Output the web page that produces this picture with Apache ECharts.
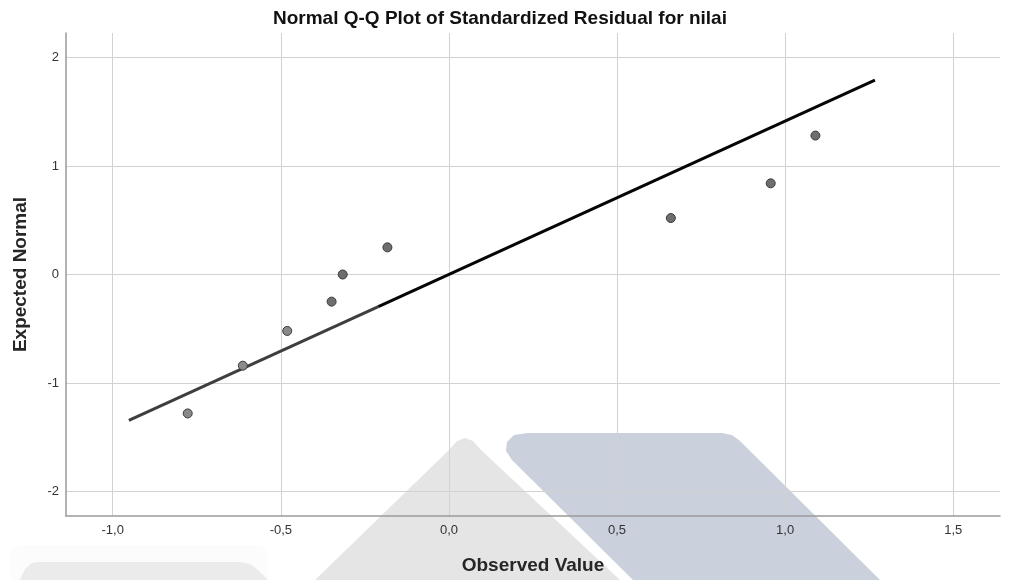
<!DOCTYPE html>
<html>
<head>
<meta charset="utf-8">
<script src="https://cdn.jsdelivr.net/npm/echarts@6/dist/echarts.min.js"></script>
<style>
html,body{margin:0;padding:0;background:#fff;}
#chart{width:1010px;height:580px;}
</style>
</head>
<body>
<div id="chart"></div>
<script>
// ---- data ----
var titleText = 'Normal Q-Q Plot of Standardized Residual for nilai';
var xAxisName = 'Observed Value';
var yAxisName = 'Expected Normal';
var observed = [-0.777, -0.613, -0.481, -0.349, -0.316, -0.183, 0.660, 0.957, 1.090];
var expected = [-1.28, -0.84, -0.52, -0.25, 0.00, 0.25, 0.52, 0.84, 1.28];
var lineX = [-0.952, -0.21, 1.267];
var lineY = [-1.343, -0.297, 1.791];
var xTicks = [-1.0, -0.5, 0.0, 0.5, 1.0, 1.5];
var xTickLabels = ['-1,0', '-0,5', '0,0', '0,5', '1,0', '1,5'];
var yTicks = [-2, -1, 0, 1, 2];
var yTickLabels = ['-2', '-1', '0', '1', '2'];
var xRange = [-1.139, 1.639];
var yRange = [-2.225, 2.225];

function lookup(ticks, labels) {
  return function (v) {
    for (var i = 0; i < ticks.length; i++) {
      if (Math.abs(ticks[i] - v) < 1e-6) return labels[i];
    }
    return '';
  };
}

var points = observed.map(function (x, i) { return [x, expected[i]]; });
var seg1 = [[lineX[0], lineY[0]], [lineX[1], lineY[1]]];
var seg2 = [[lineX[1], lineY[1]], [lineX[2], lineY[2]]];

var font = '"Liberation Sans", Arial, sans-serif';
var chart = echarts.init(document.getElementById('chart'), null, {renderer: 'canvas'});

chart.setOption({
  backgroundColor: '#ffffff',
  animation: false,
  title: {
    text: titleText,
    left: 268,
    top: 4,
    textStyle: {fontFamily: font, fontSize: 19, fontWeight: 'bold', color: '#111'}
  },
  grid: {left: 66, right: 10, top: 33, bottom: 64},
  xAxis: {
    type: 'value',
    min: xRange[0],
    max: xRange[1],
    name: xAxisName,
    nameLocation: 'middle',
    nameGap: 40,
    nameTextStyle: {fontFamily: font, fontSize: 19, fontWeight: 'bold', color: '#262626'},
    axisLine: {show: true, onZero: false, lineStyle: {color: '#9a9a9a', width: 1.5}},
    axisTick: {show: false, customValues: xTicks},
    axisLabel: {customValues: xTicks, formatter: lookup(xTicks, xTickLabels), fontFamily: font, fontSize: 13, color: '#333', margin: 8},
    splitLine: {show: true, lineStyle: {color: '#d2d2d2', width: 1}}
  },
  yAxis: {
    type: 'value',
    min: yRange[0],
    max: yRange[1],
    name: yAxisName,
    nameLocation: 'middle',
    nameGap: 36,
    nameTextStyle: {fontFamily: font, fontSize: 19, fontWeight: 'bold', color: '#262626'},
    axisLine: {show: true, onZero: false, lineStyle: {color: '#9a9a9a', width: 1.5}},
    axisTick: {show: false, customValues: yTicks},
    axisLabel: {customValues: yTicks, formatter: lookup(yTicks, yTickLabels), fontFamily: font, fontSize: 13, color: '#333', margin: 7},
    splitLine: {show: true, lineStyle: {color: '#d2d2d2', width: 1}}
  },
  graphic: [
    {type: 'rect', z: -20, silent: true, shape: {x: 10, y: 545, width: 258, height: 40, r: 12}, style: {fill: 'rgba(240,240,240,0.2)'}},
    {type: 'polygon', z: -10, silent: true,
      shape: {points: [[20, 580], [25, 569], [32, 563], [40, 562], [240, 562], [250, 564], [258, 570], [268, 580]]},
      style: {fill: '#ebebeb'}},
    {type: 'polygon', z: -10, silent: true,
      shape: {points: [[315, 580], [449, 450], [457, 441], [465, 438], [473, 441], [481, 450], [620, 580]]},
      style: {fill: '#e5e5e5'}},
    {type: 'polygon', z: -10, silent: true,
      shape: {points: [[633, 580], [512, 460], [506, 451], [507, 442], [514, 435], [528, 433], [722, 433], [732, 435], [740, 441], [880, 580]]},
      style: {fill: '#cbd0dd'}}
  ],
  series: [
    {
      type: 'line', data: seg1, symbol: 'none', silent: true, z: 3,
      lineStyle: {color: '#3e3e3e', width: 3}
    },
    {
      type: 'line', data: seg2, symbol: 'none', silent: true, z: 3,
      lineStyle: {color: '#050505', width: 3}
    },
    {
      type: 'scatter', data: points, symbol: 'circle', symbolSize: 9, z: 4,
      itemStyle: {
        color: function (p) { return p.data[0] < -0.4 ? '#8a8a8a' : '#6e6e6e'; },
        borderColor: '#3a3a3a', borderWidth: 1, opacity: 1
      }
    }
  ]
});
</script>
</body>
</html>
